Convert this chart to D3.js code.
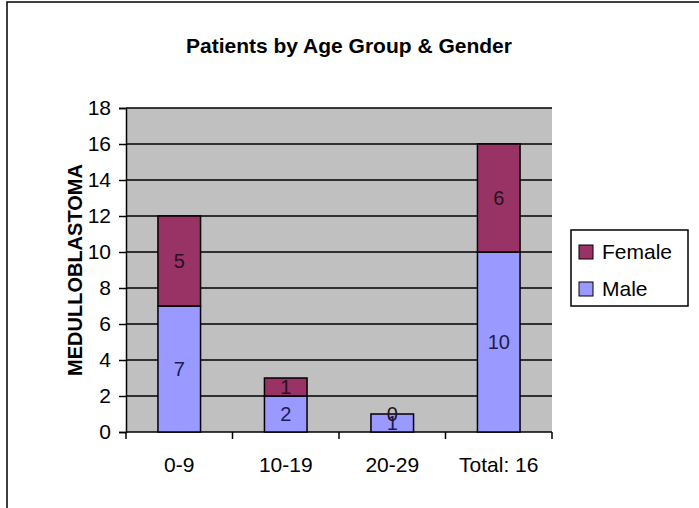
<!DOCTYPE html>
<html>
<head>
<meta charset="utf-8">
<script src="https://cdn.jsdelivr.net/npm/d3@7"></script>
<style>
  body { margin: 0; background: #fff; }
  text { font-family: "Liberation Sans", Arial, sans-serif; }
</style>
</head>
<body>
<div id="chart"></div>
<script>
var categories = ["0-9", "10-19", "20-29", "Total: 16"];
var male = [7, 2, 1, 10];
var female = [5, 1, 0, 6];
var seriesNames = ["Female", "Male"];
var yTicks = [0, 2, 4, 6, 8, 10, 12, 14, 16, 18];

var width = 699,
  height = 508,
  plot = { left: 126, right: 552, top: 108, bottom: 432 },
  maleColor = "#9999ff",
  femaleColor = "#993366";

var svg = d3.select("#chart")
  .append("svg")
  .attr("width", width)
  .attr("height", height);

// chart area frame
svg.append("rect")
  .attr("x", 7).attr("y", 2)
  .attr("width", 720).attr("height", 540)
  .attr("fill", "#fff")
  .attr("stroke", "#000")
  .attr("stroke-width", 1.5);

var x = d3.scaleBand()
  .domain(categories)
  .range([plot.left, plot.right])
  .paddingInner(0);

var y = d3.scaleLinear()
  .domain([0, 18])
  .range([plot.bottom, plot.top]);

var barW = x.bandwidth() / 2.5;

// plot area
svg.append("rect")
  .attr("x", plot.left).attr("y", plot.top)
  .attr("width", plot.right - plot.left)
  .attr("height", plot.bottom - plot.top)
  .attr("fill", "#c0c0c0");

// gridlines
svg.append("g")
  .selectAll("line")
  .data(yTicks.filter(function(d) { return d > 0; }))
  .enter()
  .append("line")
  .attr("x1", plot.left).attr("x2", plot.right)
  .attr("y1", function(d) { return y(d); })
  .attr("y2", function(d) { return y(d); })
  .attr("stroke", "#000")
  .attr("stroke-width", 1.5);

// y axis
var yAxis = svg.append("g")
  .attr("transform", "translate(" + plot.left + ",0)")
  .call(d3.axisLeft(y).tickValues(yTicks).tickSize(7).tickPadding(8));
yAxis.select(".domain").attr("stroke-width", 1.5);
yAxis.selectAll(".tick line").attr("stroke-width", 1.5);
yAxis.selectAll("text")
  .style("font-size", "21px")
  .style("font-family", "'Liberation Sans', Arial, sans-serif")
  .attr("fill", "#000");

// x axis with ticks at category boundaries
var xAxis = svg.append("g").attr("class", "x-axis");
xAxis.append("line")
  .attr("x1", plot.left).attr("x2", plot.right)
  .attr("y1", plot.bottom).attr("y2", plot.bottom)
  .attr("stroke", "#000").attr("stroke-width", 1.5);
var bounds = categories.map(function(c) { return x(c); }).concat([x(categories[categories.length - 1]) + x.bandwidth()]);
xAxis.selectAll(".xtick")
  .data(bounds)
  .enter()
  .append("line")
  .attr("x1", function(d) { return d; })
  .attr("x2", function(d) { return d; })
  .attr("y1", plot.bottom).attr("y2", plot.bottom + 7)
  .attr("stroke", "#000").attr("stroke-width", 1.5);
xAxis.selectAll(".xlabel")
  .data(categories)
  .enter()
  .append("text")
  .attr("x", function(d) { return x(d) + x.bandwidth() / 2; })
  .attr("y", 472)
  .attr("text-anchor", "middle")
  .style("font-size", "21px")
  .text(function(d) { return d; });

// stacked bars
var rows = categories.map(function(c, i) {
  return { cat: c, Male: male[i], Female: female[i] };
});
var stack = d3.stack().keys(["Male", "Female"])(rows);
var colors = { Male: maleColor, Female: femaleColor };
var labelColors = { Male: "#1c1c50", Female: "#2a1020" };

var layers = svg.append("g")
  .selectAll("g")
  .data(stack)
  .enter()
  .append("g");

layers.selectAll("rect")
  .data(function(s) { return s.map(function(d) { d.key = s.key; return d; }); })
  .enter()
  .append("rect")
  .attr("x", function(d) { return x(d.data.cat) + (x.bandwidth() - barW) / 2; })
  .attr("y", function(d) { return y(d[1]); })
  .attr("width", barW)
  .attr("height", function(d) { return y(d[0]) - y(d[1]); })
  .attr("fill", function(d) { return colors[d.key]; })
  .attr("stroke", "#000")
  .attr("stroke-width", 1.5);

layers.selectAll("text")
  .data(function(s) { return s.map(function(d) { d.key = s.key; return d; }); })
  .enter()
  .append("text")
  .attr("x", function(d) { return x(d.data.cat) + x.bandwidth() / 2; })
  .attr("y", function(d) { return (y(d[0]) + y(d[1])) / 2; })
  .attr("dy", "0.35em")
  .attr("text-anchor", "middle")
  .attr("fill", function(d) { return labelColors[d.key]; })
  .style("font-size", "20px")
  .text(function(d) { return d.data[d.key]; });

// title
svg.append("text")
  .attr("x", 349)
  .attr("y", 53)
  .attr("text-anchor", "middle")
  .style("font-size", "21px")
  .style("font-weight", "bold")
  .text("Patients by Age Group & Gender");

// y axis title
svg.append("text")
  .attr("transform", "translate(82," + ((plot.top + plot.bottom) / 2) + ") rotate(-90)")
  .attr("text-anchor", "middle")
  .style("font-size", "20px")
  .style("font-weight", "bold")
  .text("MEDULLOBLASTOMA");

// legend
var legend = svg.append("g").attr("transform", "translate(571,230)");
legend.append("rect")
  .attr("width", 117).attr("height", 76)
  .attr("fill", "#fff")
  .attr("stroke", "#000")
  .attr("stroke-width", 1.5);
var item = legend.selectAll(".item")
  .data(seriesNames)
  .enter()
  .append("g")
  .attr("transform", function(d, i) { return "translate(0," + (22 + i * 37) + ")"; });
item.append("rect")
  .attr("x", 8).attr("y", -7)
  .attr("width", 14).attr("height", 14)
  .attr("fill", function(d) { return d == "Female" ? femaleColor : maleColor; })
  .attr("stroke", "#000")
  .attr("stroke-width", 1);
item.append("text")
  .attr("x", 31)
  .attr("dy", "0.35em")
  .style("font-size", "21px")
  .text(function(d) { return d; });
</script>
</body>
</html>
